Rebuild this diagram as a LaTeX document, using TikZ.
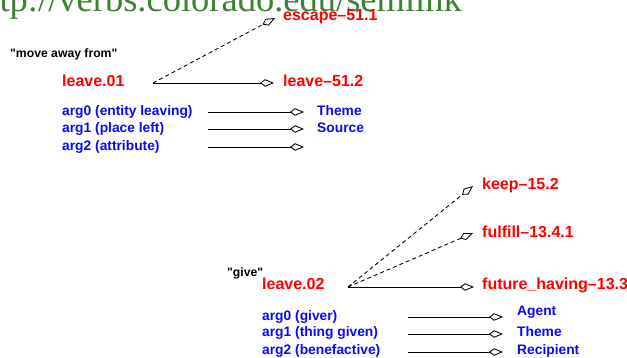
\documentclass[tikz,border=0pt]{standalone}
\usepackage{fontspec}
\setmainfont{Liberation Sans}
\newfontfamily\lsans{Liberation Sans}
\newfontfamily\urlserif{Liberation Serif}
\usetikzlibrary{arrows.meta}
\definecolor{urlgreen}{RGB}{62,128,52}
\definecolor{pbred}{RGB}{255,0,0}
\definecolor{pbblue}{RGB}{10,10,240}
\tikzset{
  redlbl/.style={anchor=base west,inner sep=0pt,text=pbred,font=\lsans\fontsize{16}{18}\selectfont\bfseries},
  bluelbl/.style={anchor=base west,inner sep=0pt,text=pbblue,font=\lsans\fontsize{13.8}{15}\selectfont\bfseries},
  glosslbl/.style={anchor=base west,inner sep=0pt,text=black,font=\lsans\fontsize{12.2}{13}\selectfont\bfseries},
  openhead/.style={-{Kite[open,length=14pt,width=7.5pt,inset=5pt]}},
  link/.style={draw=black,line width=0.85pt,openhead},
  dlink/.style={link,dash pattern=on 4pt off 3pt},
}
\begin{document}
\begin{tikzpicture}[x=1pt,y=-1pt]
\useasboundingbox (0,0) rectangle (627,358);
\begin{scope}
\clip (0,0) rectangle (627,358);
\node[anchor=base east,inner sep=0pt,text=urlgreen,font=\fontsize{36.5}{38}\selectfont\urlserif] (url) at (462,12) {http://verbs.colorado.edu/semlink};
\end{scope}

% upper frame
\node[glosslbl] (g1) at (10,58) {"move away from"};
\node[redlbl] (l01) at (62,87) {leave.01};
\node[redlbl] (esc) at (283,21) {escape–51.1};
\node[redlbl] (l512) at (283,87) {leave–51.2};
\node[bluelbl] (a10) at (62,116) {arg0 (entity leaving)};
\node[bluelbl] (a11) at (62,133) {arg1 (place left)};
\node[bluelbl] (a12) at (62,151) {arg2 (attribute)};
\node[bluelbl] (th1) at (317,116) {Theme};
\node[bluelbl] (so1) at (317,133) {Source};

\coordinate (s1) at (153,83);
\coordinate (t1esc) at (275,18);
\coordinate (t1l) at (274,83);
\draw[dlink] (s1) -- (t1esc);
\draw[link] (s1) -- (t1l);
\foreach \n/\y in {0/112,1/129,2/147}{
  \coordinate (u\n s) at (208,\y);
  \coordinate (u\n e) at (304,\y);
  \draw[link] (u\n s) -- (u\n e);
}

% lower frame
\node[glosslbl] (g2) at (227,277) {"give"};
\node[redlbl] (l02) at (262,290) {leave.02};
\node[redlbl] (keep) at (482,190) {keep–15.2};
\node[redlbl] (ful) at (482,238) {fulfill–13.4.1};
\node[redlbl] (fut) at (482,290) {future\_having–13.3};
\node[bluelbl] (a20) at (262,320) {arg0 (giver)};
\node[bluelbl] (a21) at (262,337) {arg1 (thing given)};
\node[bluelbl] (a22) at (262,355) {arg2 (benefactive)};
\node[bluelbl] (ag2) at (517,316) {Agent};
\node[bluelbl] (th2) at (517,337) {Theme};
\node[bluelbl] (re2) at (517,355) {Recipient};

\coordinate (s2) at (348,287);
\coordinate (t2k) at (473,186);
\coordinate (t2f) at (473,233);
\coordinate (t2h) at (474,287);
\draw[dlink] (s2) -- (t2k);
\draw[dlink] (s2) -- (t2f);
\draw[link] (s2) -- (t2h);
\foreach \n/\y in {0/317,1/334,2/352}{
  \coordinate (v\n s) at (408,\y);
  \coordinate (v\n e) at (503,\y);
  \draw[link] (v\n s) -- (v\n e);
}
\end{tikzpicture}
\end{document}
